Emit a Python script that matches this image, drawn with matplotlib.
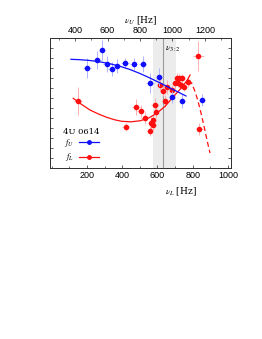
import numpy as np
import matplotlib
matplotlib.use("Agg")
import matplotlib.pyplot as plt
from matplotlib.lines import Line2D

plt.rcParams['font.family'] = ['Liberation Sans', 'DejaVu Sans']
plt.rcParams['mathtext.fontset'] = 'stix'

############# DATA

# upper QPO (plotted against nu_U, top axis)
nu_u = [472, 533, 567, 599, 626, 657, 709, 760, 816, 861, 919, 997, 1058, 1181]
f_u = [1.005, 1.08, 1.184, 1.044, 0.992, 1.017, 1.052, 1.037, 1.044, 0.855, 0.91, 0.712, 0.672, 0.678]
f_u_err = [0.10, 0.09, 0.10, 0.08, 0.07, 0.07, 0.05, 0.06, 0.08, 0.10, 0.09, 0.06, 0.07, 0.06]
nu_u_err = [25, 25, 20, 25, 20, 20, 25, 20, 20, 25, 20, 20, 20, 20]

# fitted curve for the upper QPO
fit_u_nu = [375, 430, 492, 555, 615, 677, 738, 800, 861, 922, 984, 1035, 1083]
fit_u_f = [1.087, 1.083, 1.075, 1.061, 1.043, 1.017, 0.985, 0.945, 0.90, 0.852, 0.80, 0.76, 0.72]

# lower QPO (plotted against nu_L, bottom axis)
nu_l = [149, 421, 478, 506, 529, 557, 563, 577, 576, 586, 589, 617, 633, 643,
        654, 685, 699, 711, 725, 739, 719, 733, 748, 775, 832, 837]
f_l = [0.67, 0.415, 0.613, 0.575, 0.50, 0.375, 0.45, 0.43, 0.48, 0.635, 0.563, 0.83, 0.77, 0.675,
       0.815, 0.78, 0.847, 0.905, 0.905, 0.905, 0.855, 0.835, 0.812, 0.857, 1.117, 0.387]
f_l_err = [0.14, 0.04, 0.08, 0.06, 0.06, 0.05, 0.06, 0.05, 0.05, 0.07, 0.06, 0.06, 0.05, 0.06,
           0.07, 0.05, 0.06, 0.05, 0.04, 0.04, 0.04, 0.04, 0.04, 0.05, 0.15, 0.06]
nu_l_err = [25, 20, 25, 20, 20, 15, 15, 15, 15, 20, 15, 20, 20, 15,
            20, 15, 15, 15, 15, 15, 15, 15, 15, 20, 30, 20]

# fitted curve for the lower QPO, and its dashed continuation
fit_l_nu = [122, 170, 217, 265, 312, 355, 397, 450, 501, 550, 596, 645, 690, 730, 766, 785]
fit_l_f = [0.697, 0.635, 0.58, 0.54, 0.507, 0.483, 0.467, 0.462, 0.472, 0.50, 0.547, 0.62,
           0.713, 0.79, 0.87, 0.93]
dash_l_nu = [779, 796, 813, 830, 847, 864, 881, 898]
dash_l_f = [0.88, 0.84, 0.765, 0.67, 0.55, 0.42, 0.28, 0.15]

# 3:2 resonance band (nu_L)
band = [576, 705]
nu_32 = 633

############# PLOT

blue = '#1010ff'
red = '#ff1010'

fig = plt.figure(figsize=(2.62, 3.39), dpi=100)
ax = fig.add_axes([0.1908, 0.5044, 0.6927, 0.3835])
ax2 = ax.twiny()

ax.axvspan(band[0], band[1], color='#ececec', lw=0, zorder=0)
ax.axvline(nu_32, color='#999999', lw=0.8, zorder=1)
ax.text(nu_32 + 12, 1.19, r'$\nu_{3{:}2}$', fontsize=6.5, va='center', ha='left')

ax.errorbar(nu_l, f_l, yerr=f_l_err, xerr=nu_l_err, fmt='o', color=red, ms=3,
            ecolor='#ffb0b0', elinewidth=0.7, capsize=0, zorder=3)
ax.plot(fit_l_nu, fit_l_f, '-', color=red, lw=0.9, zorder=4)
ax.plot(dash_l_nu, dash_l_f, '--', color=red, lw=0.9, dashes=(4, 2.5), zorder=4)

ax2.errorbar(nu_u, f_u, yerr=f_u_err, xerr=nu_u_err, fmt='o', color=blue, ms=3,
             ecolor='#b0b4ff', elinewidth=0.7, capsize=0, zorder=3)
ax2.plot(fit_u_nu, fit_u_f, '-', color=blue, lw=0.9, zorder=4)

ax.set_xlim(-10, 1020)
ax2.set_xlim(246, 1363)
ax.set_ylim(0, 1.3)

ax.set_xticks([200, 400, 600, 800, 1000])
ax.set_xticks(np.arange(0, 1001, 100), minor=True)
ax2.set_xticks([400, 600, 800, 1000, 1200])
ax2.set_xticks(np.arange(300, 1301, 100), minor=True)
ax.set_yticks(np.arange(0.1, 1.3, 0.1))
ax.set_yticklabels([])

for a in (ax, ax2):
    a.tick_params(direction='in', length=2.5, width=0.5, labelsize=6.5, pad=2,
                  colors='#222222', labelcolor='black')
    a.tick_params(which='minor', direction='in', length=1.5, width=0.4)
    for s in a.spines.values():
        s.set_linewidth(0.7)
        s.set_color('#333333')
ax.tick_params(axis='y', which='both', right=True)

ax.set_xlabel(r'$\nu_L$ [Hz]', fontsize=6.5, family='serif', labelpad=1)
ax.xaxis.set_label_coords(0.72, -0.135)
ax2.set_xlabel(r'$\nu_U$ [Hz]', fontsize=6.5, family='serif', labelpad=2)

# legend: source name above the two entries
ax.text(0.07, 0.275, '4U 0614', transform=ax.transAxes, fontsize=6, family='serif',
        va='center', ha='left')
handles = [Line2D([], [], color=blue, marker='o', ms=2.5, lw=0.9),
           Line2D([], [], color=red, marker='o', ms=2.5, lw=0.9)]
leg = ax.legend(handles, [r'$f_U$', r'$f_L$'], loc='lower left', bbox_to_anchor=(0.04, -0.015),
                frameon=False, markerfirst=False, fontsize=6, handlelength=2.4,
                labelspacing=0.3, borderpad=0.3, handletextpad=0.6, handleheight=0.6)

fig.savefig('out.png', dpi=100)
